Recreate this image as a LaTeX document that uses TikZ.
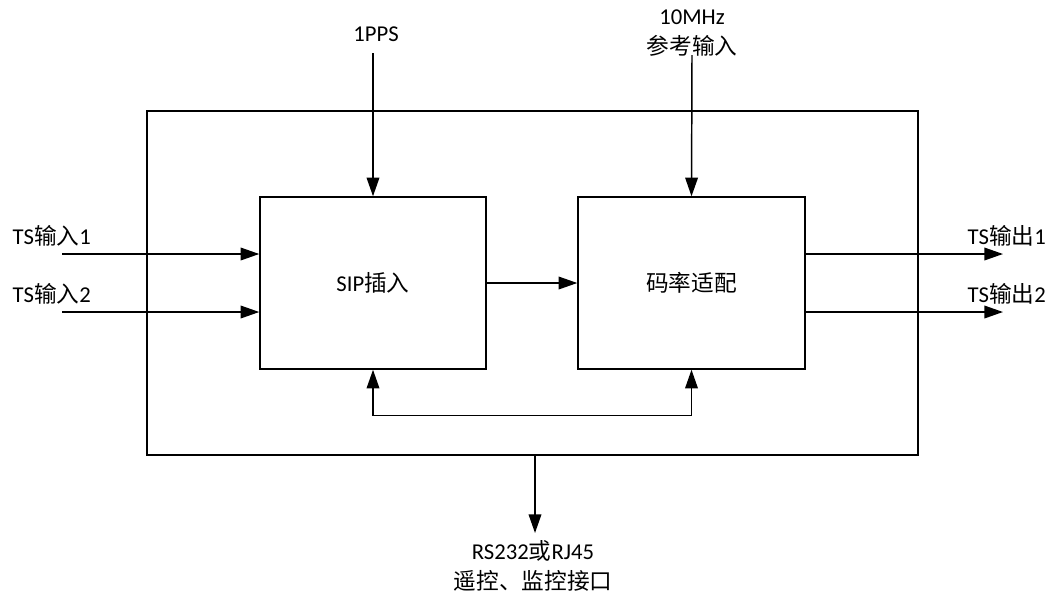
\documentclass[tikz,border=0pt]{standalone}
\usepackage{fontspec}
\setmainfont{Carlito}
\newfontfamily\cjk{Noto Sans CJK SC}
\newcommand\zh[1]{{\cjk #1}}
\usetikzlibrary{arrows.meta}
\begin{document}
\begin{tikzpicture}[x=0.75pt,y=-0.75pt,line width=1.1pt,
  box/.style={draw,inner sep=0,minimum height=129pt},
  lbl/.style={font=\fontsize{17}{23}\selectfont,inner sep=0,align=center},
  tip/.style={Triangle[length=14pt,width=9.5pt]},
  arr/.style={-{Triangle[length=14pt,width=9.5pt]}},
  darr/.style={{Triangle[length=14pt,width=9.5pt]}-{Triangle[length=14pt,width=9.5pt]}}]
\useasboundingbox (0,0) rectangle (1059,594);
% boxes
\node[box,minimum width=578.25pt,minimum height=258pt] (outer) at (532.5,283) {};
\node[box,minimum width=169.5pt,fill=white,lbl] (sip) at (373,283) {SIP\zh{插入}};
\node[box,minimum width=170.25pt,fill=white,lbl] (rate) at (691.5,283) {\zh{码率适配}};
% labels
\node[lbl] (pps) at (376,34) {1PPS};
\node[lbl] (ref) at (692,33) {10MHz\\\zh{参考输入}};
\node[lbl,anchor=west] (in1l) at (12,236) {TS\zh{输入}1};
\node[lbl,anchor=west] (in2l) at (12,294) {TS\zh{输入}2};
\node[lbl,anchor=west] (out1l) at (967,236) {TS\zh{输出}1};
\node[lbl,anchor=west] (out2l) at (967,294) {TS\zh{输出}2};
\node[lbl] (rsl) at (533,566) {RS232\zh{或}RJ45\\\zh{遥控、监控接口}};
% free ends
\coordinate (ppsTop) at (373,53);
\coordinate (refTop) at (692,55);
\coordinate (in1) at (62,254);
\coordinate (in2) at (62,312);
\coordinate (out1) at (1003,254);
\coordinate (out2) at (1003,312);
\coordinate (rs) at (535,533);
% connectors
\draw[arr] (ppsTop) -- (sip.north);
\draw[arr] (refTop) -- (rate.north);
\draw[arr] (in1) -- (in1 -| sip.west);
\draw[arr] (in2) -- (in2 -| sip.west);
\draw[arr] (out1 -| rate.east) -- (out1);
\draw[arr] (out2 -| rate.east) -- (out2);
\draw[arr] (sip.east) -- (rate.west);
\draw[darr] (sip.south) -- ++(0,46) -| (rate.south);
\draw[arr] (rs |- outer.south) -- (rs);
\end{tikzpicture}
\end{document}
